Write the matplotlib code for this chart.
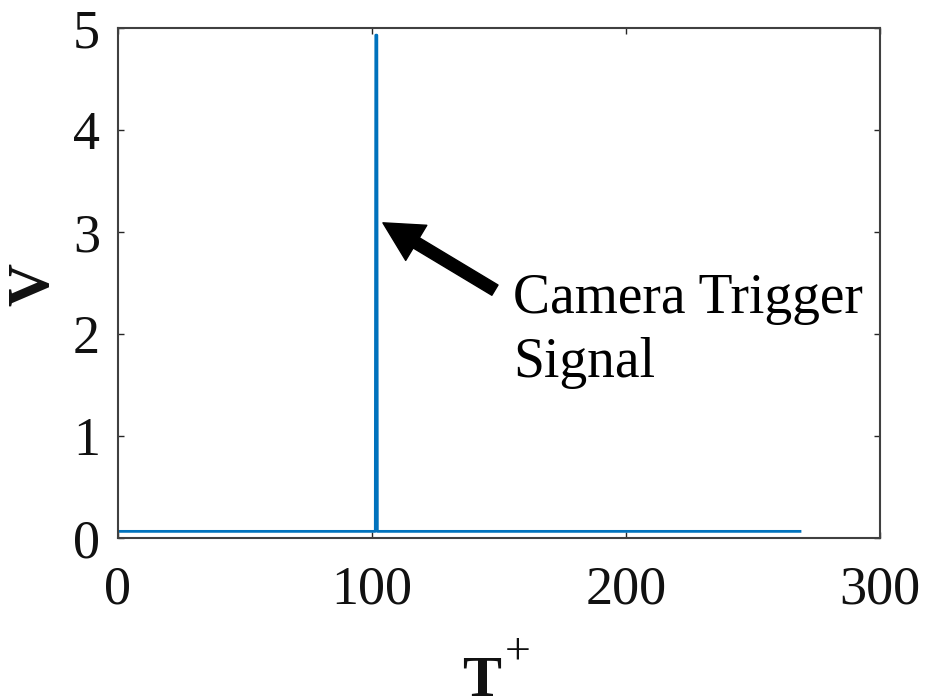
import matplotlib
matplotlib.use("Agg")
import matplotlib.pyplot as plt

plt.rcParams["font.family"] = ["Liberation Serif", "DejaVu Serif"]

# Trigger trace: flat baseline with one pulse
t_plus = [0.0, 101.3, 101.5, 101.9, 102.1, 268.5]
voltage = [0.065, 0.065, 4.93, 4.93, 0.065, 0.065]

x_ticks = [0, 100, 200, 300]
y_ticks = [0, 1, 2, 3, 4, 5]

fig = plt.figure(figsize=(9.27, 7.0), dpi=100)
ax = fig.add_axes([118 / 927, 1 - 538 / 700, 762 / 927, 510 / 700])

ax.plot(t_plus, voltage, color="#0072BD", lw=2.0)

ax.set_xlim(0, 300)
ax.set_ylim(0, 5)
ax.set_xticks(x_ticks)
ax.set_yticks(y_ticks)
ax.tick_params(direction="in", length=4, width=1.0, colors="#262626",
               labelsize=39, labelcolor="#111111", top=True, right=True)
ax.tick_params(axis="x", pad=19.5)
ax.tick_params(axis="y", pad=13)
for s in ax.spines.values():
    s.set_color("#404040")
    s.set_linewidth(1.5)

# Axis titles
fig.text(34 / 927, 1 - 284 / 700, "V", rotation=90, fontsize=43,
         fontweight="bold", ha="center", va="center", color="#111111")
fig.text(482 / 927, 4 / 700, "T", fontsize=42, fontweight="bold",
         ha="center", va="baseline", color="#111111")
fig.text(518 / 927, 1 - 652 / 700, "+", fontsize=33,
         ha="center", va="center", color="#111111")

# Annotation pointing at the pulse
ax.annotate("", xy=(104.3, 3.09), xytext=(148.4, 2.43),
            arrowprops=dict(arrowstyle="simple,head_length=2.8,head_width=2.95,tail_width=0.86",
                            mutation_scale=10, color="black", shrinkA=0, shrinkB=0))
ax.text(155.5, 1.578, "Camera Trigger\nSignal", fontsize=40, ha="left",
        va="baseline", color="black", linespacing=1.31)

fig.savefig("out.png", dpi=100)
